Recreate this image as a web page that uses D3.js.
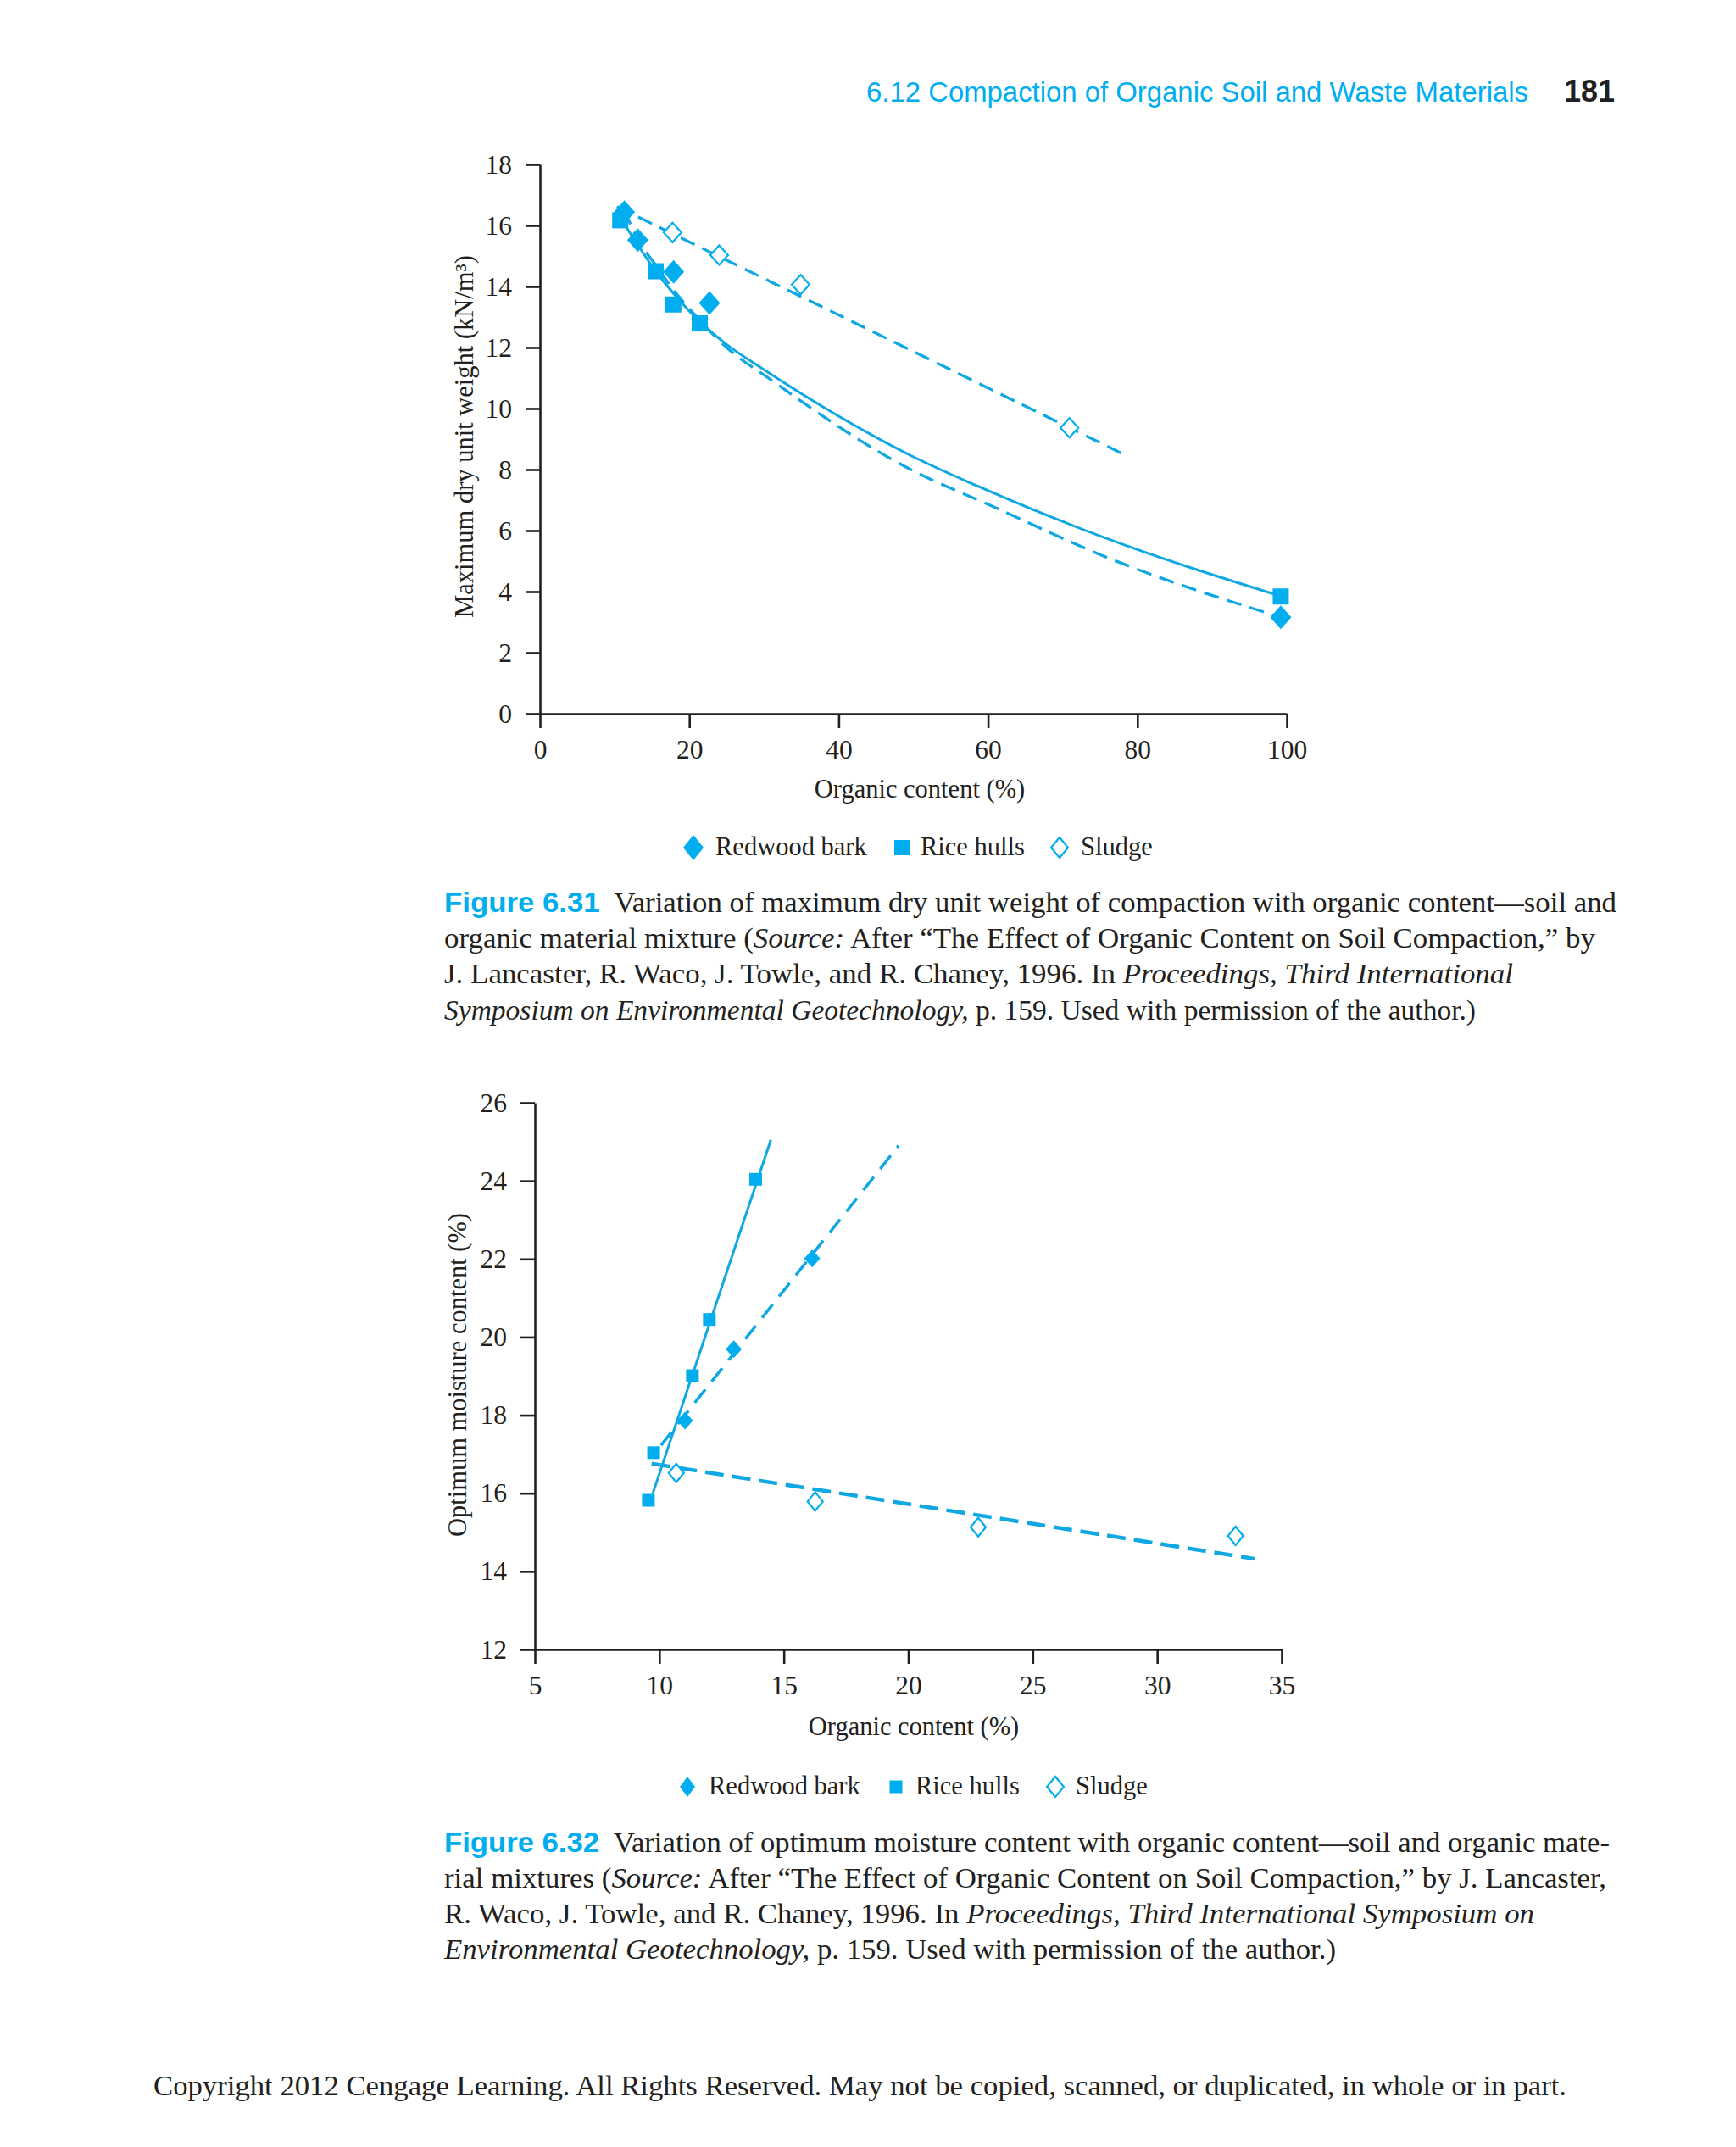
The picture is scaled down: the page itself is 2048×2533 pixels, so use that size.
<!DOCTYPE html>
<html>
<meta charset="UTF-8">
<head>
<style>
body { margin: 0; background: white; }
svg { display: block; }
.axis path, .axis line { stroke: #231f20; stroke-width: 2.6; }
.axis text { font-family: "Liberation Serif", "Times New Roman", serif; font-size: 31.5px; fill: #231f20; }
.lbl { font-family: "Liberation Serif", "Times New Roman", serif; font-size: 30.5px; fill: #231f20; }
.cap { font-family: "Liberation Serif", "Times New Roman", serif; font-size: 33px; fill: #231f20; }
.fig { font-family: "Liberation Sans", Arial, sans-serif; font-weight: bold; fill: #00aeef; }
</style>
</head>
<body>
<script src="https://d3js.org/d3.v7.min.js"></script>
<script>

// ---- data: Figure 6.31 (max dry unit weight vs organic content)
var xTicks1 = [0, 20, 40, 60, 80, 100]
var yTicks1 = [0, 2, 4, 6, 8, 10, 12, 14, 16, 18]
var redwood1 = [[11.3, 16.44], [13.1, 15.52], [17.9, 14.48], [22.7, 13.46], [99.2, 3.16]]
var rice1 = [[10.75, 16.17], [15.5, 14.5], [17.85, 13.41], [21.4, 12.79], [99.2, 3.84]]
var sludge1 = [[17.75, 15.77], [24.0, 15.03], [34.9, 14.06], [70.9, 9.37]]
// trend lines
var riceFit1 = [[10.9, 16.2], [13.0, 15.4], [15.5, 14.5], [18.5, 13.6], [21.4, 12.85], [25, 12.1],
                [29.85, 11.3], [40, 9.75], [49.5, 8.48], [58.6, 7.46], [75.25, 5.8], [99.2, 3.85]]
var redwoodFit1 = [[11.3, 16.5], [13.1, 15.55], [15.5, 14.7], [18, 13.85], [21, 13.0], [25, 12.0],
                   [30.6, 11.0], [48.8, 8.11], [61.3, 6.72], [75.25, 5.19], [99.2, 3.16]]
var sludgeFit1 = [[10.3, 16.62], [78.6, 8.45]]

// ---- data: Figure 6.32 (optimum moisture content vs organic content)
var xTicks2 = [5, 10, 15, 20, 25, 30, 35]
var yTicks2 = [12, 14, 16, 18, 20, 22, 24, 26]
var redwood2 = [[11.03, 17.86], [12.99, 19.69], [16.14, 22.01]]
var rice2 = [[9.56, 15.82], [9.77, 17.04], [11.33, 19.01], [12.01, 20.45], [13.87, 24.04]]
var sludge2 = [[10.68, 16.52], [16.26, 15.79], [22.81, 15.13], [33.15, 14.91]]
var riceFit2 = [[9.73, 15.98], [14.48, 25.05]]
var redwoodFit2 = [[10.07, 17.23], [19.61, 24.90]]
var sludgeFit2 = [[9.69, 16.76], [33.93, 14.32]]

var legendNames = ['Redwood bark', 'Rice hulls', 'Sludge']

var cyan = '#00aeef'
    lineCol = '#0fa8e2'
    ink = '#231f20'

var svg = d3.select('body').append('svg')
    .attr('width', 2048)
    .attr('height', 2533)

svg.append('rect').attr('width', 2048).attr('height', 2533).attr('fill', 'white')

// diamond path helper
function diamond(cx, cy, w, h) {
  return 'M' + cx + ',' + (cy - h) + 'L' + (cx + w) + ',' + cy + 'L' + cx + ',' + (cy + h) + 'L' + (cx - w) + ',' + cy + 'Z'
}

function drawChart(o) {
  var x = d3.scaleLinear().domain(o.xDom).range(o.xRange)
  var y = d3.scaleLinear().domain(o.yDom).range(o.yRange)

  var xAxis = d3.axisBottom(x).tickValues(o.xTicks).tickSize(17).tickSizeOuter(0).tickPadding(14)
  var yAxis = d3.axisLeft(y).tickValues(o.yTicks).tickSize(17).tickSizeOuter(0).tickPadding(16)

  svg.append('g').attr('class', 'axis')
      .attr('transform', 'translate(0,' + o.yRange[0] + ')')
      .call(xAxis)
  svg.append('g').attr('class', 'axis')
      .attr('transform', 'translate(' + o.xRange[0] + ',0)')
      .call(yAxis)
  svg.selectAll('.axis .domain').attr('stroke', ink).attr('fill', 'none')

  // trend lines
  var line = d3.line().x(d => x(d[0])).y(d => y(d[1])).curve(d3.curveMonotoneX)
  o.fits.forEach(function(f) {
    svg.append('path')
        .attr('d', line(f.data))
        .attr('fill', 'none')
        .attr('stroke', lineCol)
        .attr('stroke-width', f.w)
        .attr('stroke-dasharray', f.dash)
  })

  // markers
  var g = svg.append('g')
  g.selectAll('.sludge').data(o.sludge).enter().append('path')
      .attr('d', d => diamond(x(d[0]), y(d[1]), o.od[0], o.od[1]))
      .attr('fill', 'white').attr('stroke', cyan).attr('stroke-width', 2.2)
  g.selectAll('.redwood').data(o.redwood).enter().append('path')
      .attr('d', d => diamond(x(d[0]), y(d[1]), o.fd[0], o.fd[1]))
      .attr('fill', cyan)
  g.selectAll('.rice').data(o.rice).enter().append('rect')
      .attr('x', d => x(d[0]) - o.sq / 2)
      .attr('y', d => y(d[1]) - o.sq / 2)
      .attr('width', o.sq).attr('height', o.sq)
      .attr('fill', cyan)

  // axis titles
  svg.append('text').attr('class', 'lbl')
      .attr('x', o.xLab[0]).attr('y', o.xLab[1])
      .attr('text-anchor', 'middle')
      .text('Organic content (%)')
  svg.append('text').attr('class', 'lbl')
      .attr('transform', 'translate(' + o.yLab[0] + ',' + o.yLab[1] + ') rotate(-90)')
      .attr('text-anchor', 'middle')
      .text(o.yTitle)

  // legend
  var L = o.leg
  svg.append('path').attr('d', diamond(L.mx[0], L.y, L.fd[0], L.fd[1])).attr('fill', cyan)
  svg.append('rect').attr('x', L.mx[1] - L.sq / 2).attr('y', L.y - L.sq / 2)
      .attr('width', L.sq).attr('height', L.sq).attr('fill', cyan)
  svg.append('path').attr('d', diamond(L.mx[2], L.y, L.od[0], L.od[1]))
      .attr('fill', 'white').attr('stroke', cyan).attr('stroke-width', 2.2)
  legendNames.forEach(function(n, i) {
    svg.append('text').attr('class', 'lbl')
        .attr('x', L.tx[i]).attr('y', L.y + 9)
        .text(n)
  })
}

drawChart({
  xDom: [0, 100], xRange: [637, 1518], xTicks: xTicks1,
  yDom: [0, 18], yRange: [842, 194], yTicks: yTicks1,
  redwood: redwood1, rice: rice1, sludge: sludge1,
  fits: [{data: riceFit1, w: 3, dash: null},
         {data: redwoodFit1, w: 3.3, dash: '18,10'},
         {data: sludgeFit1, w: 3.3, dash: '18,10'}],
  fd: [12.5, 14], sq: 19, od: [10.5, 11.5],
  xLab: [1085, 941], yLab: [558, 515],
  yTitle: 'Maximum dry unit weight (kN/m\u00b3)',
  leg: {y: 1000, mx: [818, 1064, 1250], tx: [844, 1086, 1275], fd: [12, 15], sq: 18, od: [10, 12]}
})

drawChart({
  xDom: [5, 35], xRange: [631, 1512], xTicks: xTicks2,
  yDom: [12, 26], yRange: [1946, 1301], yTicks: yTicks2,
  redwood: redwood2, rice: rice2, sludge: sludge2,
  fits: [{data: riceFit2, w: 3, dash: null},
         {data: redwoodFit2, w: 3.5, dash: '20,12'},
         {data: sludgeFit2, w: 4.5, dash: '22,10'}],
  fd: [9.5, 10.5], sq: 15, od: [9, 11],
  xLab: [1078, 2047], yLab: [550, 1622],
  yTitle: 'Optimum moisture content (%)',
  leg: {y: 2108, mx: [811, 1057, 1245], tx: [836, 1080, 1269], fd: [9, 12], sq: 15, od: [10, 12]}
})

// ---- running head
svg.append('text')
    .attr('x', 1022).attr('y', 120)
    .attr('font-family', '"Liberation Sans", Arial, sans-serif')
    .attr('font-size', 34).attr('fill', cyan)
    .attr('textLength', 781).attr('lengthAdjust', 'spacingAndGlyphs')
    .text('6.12 Compaction of Organic Soil and Waste Materials')
svg.append('text')
    .attr('x', 1845).attr('y', 120)
    .attr('font-family', '"Liberation Sans", Arial, sans-serif')
    .attr('font-size', 36).attr('font-weight', 'bold').attr('fill', ink)
    .attr('textLength', 60).attr('lengthAdjust', 'spacingAndGlyphs')
    .text('181')

// ---- captions: each line is a list of [text, style] runs
var cap1 = [
  [['Figure 6.31', 'fig'], ['  Variation of maximum dry unit weight of compaction with organic content\u2014soil and', '']],
  [['organic material mixture (', ''], ['Source:', 'i'], [' After \u201cThe Effect of Organic Content on Soil Compaction,\u201d by', '']],
  [['J. Lancaster, R. Waco, J. Towle, and R. Chaney, 1996. In ', ''], ['Proceedings, Third International', 'i']],
  [['Symposium on Environmental Geotechnology,', 'i'], [' p. 159. Used with permission of the author.)', '']]
]
var cap2 = [
  [['Figure 6.32', 'fig'], ['  Variation of optimum moisture content with organic content\u2014soil and organic mate-', '']],
  [['rial mixtures (', ''], ['Source:', 'i'], [' After \u201cThe Effect of Organic Content on Soil Compaction,\u201d by J. Lancaster,', '']],
  [['R. Waco, J. Towle, and R. Chaney, 1996. In ', ''], ['Proceedings, Third International Symposium on', 'i']],
  [['Environmental Geotechnology,', 'i'], [' p. 159. Used with permission of the author.)', '']]
]

function caption(lines, ys, widths) {
  lines.forEach(function(runs, i) {
    var t = svg.append('text').attr('class', 'cap')
        .attr('x', 524).attr('y', ys[i])
        .attr('xml:space', 'preserve')
        .attr('textLength', widths[i]).attr('lengthAdjust', 'spacingAndGlyphs')
    runs.forEach(function(r) {
      var s = t.append('tspan').text(r[0])
      if (r[1] == 'i') s.attr('font-style', 'italic')
      if (r[1] == 'fig') s.attr('class', 'fig').attr('font-size', 33)
    })
  })
}

caption(cap1, [1076, 1118, 1160, 1203], [1383, 1358, 1261, 1217])
caption(cap2, [2185, 2227, 2269, 2311], [1375, 1371, 1286, 1052])

// ---- footer
svg.append('text').attr('class', 'cap')
    .attr('x', 181).attr('y', 2472)
    .attr('font-size', 30)
    .attr('textLength', 1667).attr('lengthAdjust', 'spacingAndGlyphs')
    .text('Copyright 2012 Cengage Learning. All Rights Reserved. May not be copied, scanned, or duplicated, in whole or in part.')

</script>
</body>
</html>
